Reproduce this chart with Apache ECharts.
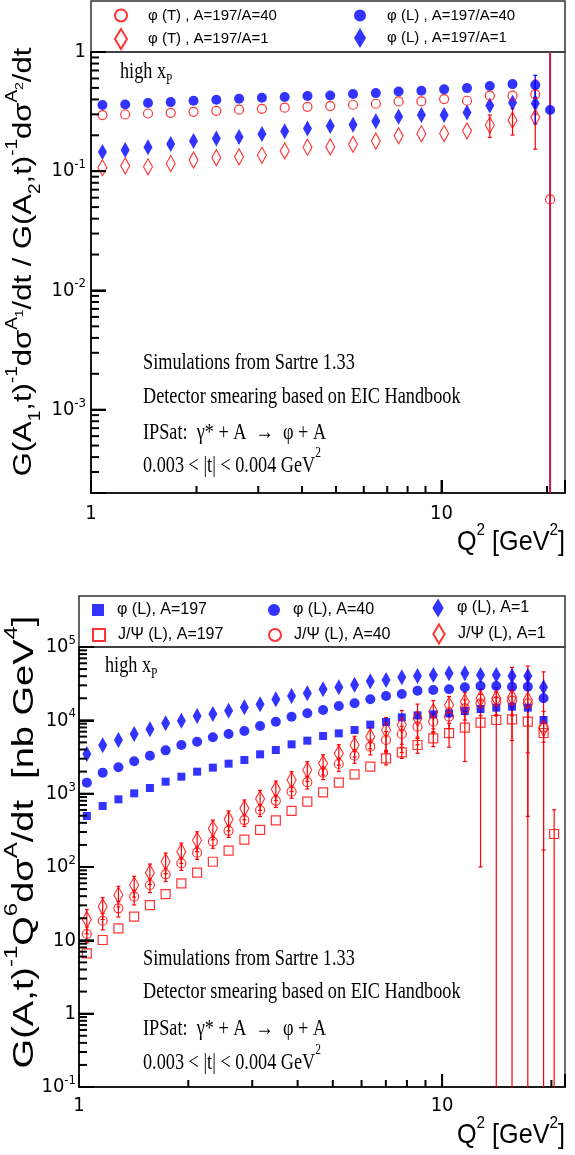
<!DOCTYPE html>
<html>
<head>
<meta charset="utf-8">
<title>Sartre 1.33 - phi / J/psi vs Q2</title>
<script src="https://cdn.jsdelivr.net/npm/echarts@6.0.0/dist/echarts.min.js"></script>
<style>
  html, body { margin: 0; padding: 0; background: #ffffff; }
  #chart { width: 575px; height: 1155px; }
</style>
</head>
<body>
<div id="chart"></div>
<script>
// ---------- upper panel: ratio A=197 over A=40 / A=1 (20 log bins + overflow) ----------
var q2Top = [1.078, 1.252, 1.454, 1.688, 1.961, 2.278, 2.645, 3.073, 3.569, 4.145,
             4.814, 5.591, 6.494, 7.542, 8.760, 10.17, 11.82, 13.73, 15.94, 18.51, 20.4];
var ratioT40 = [0.296, 0.299, 0.305, 0.309, 0.315, 0.321, 0.328, 0.334, 0.341, 0.347,
                0.352, 0.361, 0.368, 0.385, 0.385, 0.403, 0.390, 0.430, 0.430, 0.441, 0.058];
var ratioL40 = [0.359, 0.363, 0.373, 0.380, 0.390, 0.398, 0.405, 0.413, 0.419, 0.427,
                0.432, 0.444, 0.452, 0.467, 0.473, 0.486, 0.498, 0.518, 0.538, 0.528, 0.326];
var ratioT1 = [0.107, 0.111, 0.109, 0.116, 0.124, 0.130, 0.132, 0.136, 0.148, 0.159,
               0.160, 0.168, 0.179, 0.198, 0.206, 0.207, 0.218, 0.244, 0.268, 0.283, null];
var ratioL1 = [0.145, 0.151, 0.159, 0.169, 0.179, 0.188, 0.194, 0.205, 0.216, 0.228,
               0.239, 0.245, 0.262, 0.286, 0.296, 0.296, 0.311, 0.356, 0.375, 0.370, null];
// statistical errors (absolute)
var errT40 = [0.003, 0.003, 0.003, 0.003, 0.004, 0.004, 0.004, 0.004, 0.005, 0.005,
              0.006, 0.007, 0.008, 0.009, 0.010, 0.013, 0.016, 0.030, 0.045, 0.140, 5.0];
var errL40 = [0.002, 0.002, 0.002, 0.002, 0.003, 0.003, 0.003, 0.003, 0.004, 0.004,
              0.005, 0.005, 0.006, 0.007, 0.008, 0.010, 0.015, 0.025, 0.053, 0.110, 0.010];
var errT1 = [0.002, 0.002, 0.002, 0.002, 0.003, 0.003, 0.003, 0.003, 0.004, 0.004,
             0.005, 0.006, 0.007, 0.008, 0.010, 0.015, 0.020, 0.052, 0.067, 0.130, null];
var errL1 = [0.002, 0.002, 0.002, 0.002, 0.002, 0.003, 0.003, 0.003, 0.003, 0.004,
             0.004, 0.005, 0.005, 0.006, 0.007, 0.009, 0.015, 0.020, 0.037, 0.120, null];

// ---------- lower panel: G^-1 Q^6 dsigma/dt [nb GeV^4] (30 log bins + overflow) ----------
var q2Bot = [1.051, 1.162, 1.284, 1.419, 1.568, 1.732, 1.914, 2.115, 2.337, 2.582,
             2.854, 3.153, 3.484, 3.850, 4.254, 4.701, 5.194, 5.740, 6.342, 7.008,
             7.744, 8.557, 9.456, 10.45, 11.55, 12.76, 14.10, 15.58, 17.22, 19.03, 20.35];
var phi197 = [496, 679, 837, 1011, 1194, 1457, 1705, 1995, 2263, 2565,
              2877, 3438, 3940, 4707, 5281, 6111, 6648, 7385, 8730, 9490,
              10990, 11700, 12070, 12460, 13400, 14270, 14890, 15360, 14890, 10100, null];
var phi40 = [1413, 1934, 2286, 2760, 3297, 3896, 4610, 5117, 5866, 6511,
             7156, 8370, 9590, 11220, 12460, 13830, 15690, 17060, 19340, 21470,
             22860, 25380, 25920, 26470, 28180, 29380, 29380, 28770, 28770, 19950, null];
var phi1 = [3475, 4561, 5395, 6511, 7540, 9100, 9897, 11450, 12200, 13540,
            15040, 16520, 19340, 21470, 23350, 26470, 28180, 30640, 34030, 35480,
            38590, 40230, 41500, 43720, 43720, 41500, 41500, 40230, 40230, 28180, null];
var jpsi197 = [6.65, 10.1, 14.6, 21.0, 30.3, 42.8, 59.9, 83.7, 118, 167,
               236, 320, 433, 583, 778, 1042, 1413, 1835, 2335, 3033,
               3661, 4610, 5683, 6700, 7943, 9290, 10100, 10300, 9600, 6720, 282];
var jpsi40 = [12.2, 18.5, 27.3, 39.4, 56.8, 79.4, 112, 157, 222, 311,
              437, 599, 798, 1065, 1436, 1934, 2538, 3297, 4375, 5395,
              6511, 8198, 9590, 11220, 14580, 17060, 17970, 18540, 17060, 8035, null];
var jpsi1 = [19.3, 28.8, 41.5, 56.8, 83.7, 118, 162, 232, 335, 447,
             631, 850, 1146, 1536, 2102, 2592, 3548, 4610, 5986, 7385,
             8635, 10650, 13120, 16180, 17970, 19950, 19950, 20590, 18940, 7800, null];
var jpsi197Err = [0.5, 0.7, 1.0, 1.4, 2, 2.8, 3.8, 5.3, 7.5, 11,
                  16, 22, 30, 42, 58, 85, 120, 170, 260, 570,
                  630, 1060, 1300, 2400, 5200, 9190, 10500, 5000, 6000, 6550, 320];
var jpsi40Err = [3, 4.6, 6.5, 9, 12, 16, 22, 30, 42, 58,
                 80, 110, 150, 200, 280, 380, 520, 700, 1000, 1650,
                 1800, 2300, 2800, 3500, 4500, 5500, 6500, 7000, 38000, 3000, null];
var jpsi1Err = [7, 9.5, 13, 18, 26, 37, 50, 70, 100, 135,
                190, 260, 340, 460, 630, 800, 1100, 1450, 1900, 3500,
                5000, 6000, 5500, 5000, 6000, 7000, 8000, 32000, 18450, 38000, null];

// axis ticks (ROOT style: decades long, 2..9 short, all on the inside)
var topXMajor = [1, 10];
var topYMajor = [1e-3, 1e-2, 1e-1, 1];
var botXMajor = [1, 10];
var botYMajor = [0.1, 1, 10, 100, 1000, 1e4, 1e5];
var minorSteps = [2, 3, 4, 5, 6, 7, 8, 9];

var SANS = "'Liberation Sans', Arial, Helvetica, sans-serif";
var NARROW = "'Liberation Sans Narrow', 'Arial Narrow', 'DejaVu Sans Condensed', sans-serif";
var SERIF = "'Liberation Serif', 'Times New Roman', Times, serif";
var RED = '#ff0000';
var BLUE = '#0000ff';
var DIAMOND = 'path://M6,0L12,10L6,20L0,10Z';
var SQUARE = 'path://M0,0L10,0L10,10L0,10Z';

var TOP_YMIN = 2e-4, TOP_YMAX = 1, TOP_XMAX = 22.5;
var BOT_YMIN = 0.1, BOT_YMAX = 1e5, BOT_XMAX = 21.8;

var myChart = echarts.init(document.getElementById('chart'));

function pairs(xs, ys) {
    var out = [];
    for (var i = 0; i < xs.length; i++) {
        if (ys[i] != null) out.push([xs[i], ys[i]]);
    }
    return out;
}

// vertical error bar with small caps; hidden when shorter than the marker
function errRenderer(yFloor, width) {
    return function (params, api) {
        var x = api.value(0), y = api.value(1), s = api.value(2);
        if (!(s > 0)) return;
        var lo = y - s > 0 ? y - s : yFloor;
        var p1 = api.coord([x, y + s]);
        var p2 = api.coord([x, lo]);
        if (Math.abs(p2[1] - p1[1]) < 11) return;
        var st = { stroke: api.visual('color'), lineWidth: width };
        return {
            type: 'group',
            children: [
                { type: 'line', shape: { x1: p1[0], y1: p1[1], x2: p2[0], y2: p2[1] }, style: st },
                { type: 'line', shape: { x1: p1[0] - 2, y1: p1[1], x2: p1[0] + 2, y2: p1[1] }, style: st },
                { type: 'line', shape: { x1: p2[0] - 2, y1: p2[1], x2: p2[0] + 2, y2: p2[1] }, style: st }
            ]
        };
    };
}

function errBars(name, grid, xs, ys, es, color, yFloor, width) {
    var data = [];
    for (var i = 0; i < xs.length; i++) {
        if (ys[i] != null && es[i] != null) data.push([xs[i], ys[i], es[i]]);
    }
    return {
        name: name, type: 'custom', xAxisIndex: grid, yAxisIndex: grid,
        renderItem: errRenderer(yFloor, width || 1.2),
        encode: { x: 0, y: 1 },
        itemStyle: { color: color },
        clip: true, silent: true, z: 2,
        data: data
    };
}

function scatter(name, grid, xs, ys, symbol, size, filled, color) {
    return {
        name: name, type: 'scatter', xAxisIndex: grid, yAxisIndex: grid,
        symbol: symbol, symbolSize: size,
        itemStyle: filled ? { color: color } :
            { color: 'rgba(255,255,255,0)', borderColor: color, borderWidth: 1.2 },
        silent: true, z: 3,
        data: pairs(xs, ys)
    };
}

// minor tick values (2..9 x 10^d) strictly inside [min, max]
function minorValues(min, max) {
    var out = [];
    for (var d = Math.floor(Math.log10(min)); d < Math.ceil(Math.log10(max)); d++) {
        for (var i = 0; i < minorSteps.length; i++) {
            var v = minorSteps[i] * Math.pow(10, d);
            if (v > min && v < max) out.push(v);
        }
    }
    return out;
}

// inner tick marks drawn through the axis scale of one grid
function tickSeries(grid, dim, vals, fixed, len) {
    var data = [];
    for (var i = 0; i < vals.length; i++) {
        data.push(dim === 'x' ? [vals[i], fixed] : [fixed, vals[i]]);
    }
    return {
        name: 'ticks-' + grid + dim + len,
        type: 'custom', xAxisIndex: grid, yAxisIndex: grid,
        encode: { x: 0, y: 1 }, silent: true, clip: false, z: 6,
        data: data,
        renderItem: function (params, api) {
            var p = api.coord([api.value(0), api.value(1)]);
            var shape = dim === 'x' ?
                { x1: p[0], y1: p[1], x2: p[0], y2: p[1] - len } :
                { x1: p[0], y1: p[1], x2: p[0] + len, y2: p[1] };
            return { type: 'line', shape: shape, style: { stroke: '#000', lineWidth: 2 } };
        }
    };
}

function decadeLabel(v) {
    var lg = Math.log(v) / Math.LN10;
    var e = Math.round(lg);
    if (Math.abs(lg - e) > 1e-6) return '';
    if (e === 0) return '{b|1}';
    if (e === 1) return '{b|10}';
    return '{b|10}{e|' + e + '}';
}

function xDecadeLabel(v) {
    var lg = Math.log(v) / Math.LN10;
    if (Math.abs(lg) < 1e-6) return '1';
    if (Math.abs(lg - 1) < 1e-6) return '10';
    return '';
}

function logAxis(grid, min, max, isY, margin) {
    return {
        type: 'log', logBase: 10, gridIndex: grid, min: min, max: max,
        axisLine: { show: true, lineStyle: { color: '#000', width: 1.6 } },
        axisTick: { show: true, inside: true, length: isY ? 15 : 13, lineStyle: { color: '#000', width: 2 } },
        minorTick: { show: false },
        splitLine: { show: false },
        minorSplitLine: { show: false },
        axisLabel: isY ? {
            formatter: decadeLabel, margin: margin,
            rich: {
                b: { fontSize: 20, fontFamily: NARROW, color: '#000', padding: [3, 0, 3, 0] },
                e: { fontSize: 13, fontFamily: NARROW, color: '#000', verticalAlign: 'top' }
            }
        } : {
            formatter: xDecadeLabel, margin: margin,
            fontSize: 20, fontFamily: NARROW, color: '#000'
        }
    };
}

// icon centre cx, text start tx (legend puts text 5px after the icon)
function legendEntry(name, cx, tx, centerY, iconW, h, fontSize, icon) {
    var item = { name: name };
    if (icon) item.icon = icon;
    var left = cx - iconW / 2;
    return {
        data: [item], left: left, top: centerY - h / 2,
        itemWidth: iconW, itemHeight: h, padding: 0, selectedMode: false,
        textStyle: {
            fontSize: fontSize, fontFamily: SANS, color: '#000', lineHeight: h,
            padding: [0, 0, 0, Math.max(0, tx - (left + iconW + 5))]
        }
    };
}

// text helpers (the reference fonts are horizontally condensed)
var serifRich = {
    n: { fontSize: 24, fontFamily: SERIF, fill: '#000', padding: [8, 0, 4, 0] },
    u: { fontSize: 15, fontFamily: SERIF, fill: '#000', verticalAlign: 'top' },
    d: { fontSize: 15, fontFamily: SERIF, fill: '#000', verticalAlign: 'bottom' }
};
function serifText(x, baseline, text) {
    return {
        type: 'text', x: x, y: baseline - 28, scaleX: 0.76, silent: true,
        style: { text: text, rich: serifRich, fill: '#000', align: 'left', verticalAlign: 'top' }
    };
}

var qRich = {
    q: { fontSize: 28, fontFamily: SANS, fill: '#000', padding: [6, 0, 0, 0] },
    s: { fontSize: 17, fontFamily: SANS, fill: '#000', verticalAlign: 'top' }
};
function xTitle(right, baseline) {
    return {
        type: 'text', x: right, y: baseline - 30, scaleX: 0.9, silent: true,
        style: { text: '{q|Q}{s|2}{q| [GeV}{s|2}{q|]}', rich: qRich, fill: '#000', align: 'right', verticalAlign: 'top' }
    };
}

function titleRich(F) {
    return {
        g: { fontSize: F, fontFamily: SANS, fill: '#000', padding: [Math.round(F * 0.25), 0, Math.round(F * 0.25), 0] },
        sp: { fontSize: Math.round(F * 0.62), fontFamily: SANS, fill: '#000', verticalAlign: 'top' },
        sb: { fontSize: Math.round(F * 0.62), fontFamily: SANS, fill: '#000', verticalAlign: 'bottom' },
        ss: { fontSize: Math.round(F * 0.45), fontFamily: SANS, fill: '#000', verticalAlign: 'top', padding: [Math.round(F * 0.4), 0, 0, 0] }
    };
}
function yTitle(cx, cy, text, F, squeeze) {
    return {
        type: 'text', x: cx, y: cy, rotation: Math.PI / 2, scaleY: squeeze, silent: true,
        style: { text: text, rich: titleRich(F), fill: '#000', align: 'center', verticalAlign: 'middle' }
    };
}

var topTitle = '{g|G(A}{sb|1}{g|,t)}{sp|-1}{g|dσ}{sp|A}{ss|1}{g|/dt / G(A}{sb|2}{g|,t)}{sp|-1}{g|dσ}{sp|A}{ss|2}{g|/dt}';
var botTitle = '{g|G(A,t)}{sp|-1}{g|Q}{sp|6}{g|dσ}{sp|A}{g|/dt  [nb GeV}{sp|4}{g|]}';

var nT40 = 'φ (T) , A=197/A=40', nL40 = 'φ (L) , A=197/A=40';
var nT1 = 'φ (T) , A=197/A=1', nL1 = 'φ (L) , A=197/A=1';
var nP197 = 'φ (L), A=197', nP40 = 'φ (L), A=40', nP1 = 'φ (L), A=1';
var nJ197 = 'J/Ψ (L), A=197', nJ40 = 'J/Ψ (L), A=40', nJ1 = 'J/Ψ (L), A=1';

var last = q2Top.length - 1;

var option = {
    animation: false,
    backgroundColor: '#ffffff',
    grid: [
        { left: 91, top: 52, width: 474, height: 441, show: true, borderColor: '#444', borderWidth: 1.5 },
        { left: 79, top: 647, width: 486, height: 440, show: true, borderColor: '#444', borderWidth: 1.5 }
    ],
    xAxis: [
        logAxis(0, 1, TOP_XMAX, false, 11),
        logAxis(1, 1, BOT_XMAX, false, 9)
    ],
    yAxis: [
        logAxis(0, TOP_YMIN, TOP_YMAX, true, 5),
        logAxis(1, BOT_YMIN, BOT_YMAX, true, 3)
    ],
    legend: [
        legendEntry(nT40, 120, 147, 14, 12, 12, 15),
        legendEntry(nT1, 120, 147, 38, 12, 20, 15, DIAMOND),
        legendEntry(nL40, 360, 387, 14, 12, 12, 15),
        legendEntry(nL1, 360, 387, 38, 12, 20, 15, DIAMOND),
        legendEntry(nP197, 98, 117, 608, 12, 12, 16, SQUARE),
        legendEntry(nJ197, 98, 117, 633, 12, 12, 16, SQUARE),
        legendEntry(nP40, 274, 293, 608, 12, 12, 16),
        legendEntry(nJ40, 274, 293, 633, 12, 12, 16),
        legendEntry(nP1, 438, 457, 608, 11.4, 19, 16, DIAMOND),
        legendEntry(nJ1, 438, 457, 633, 11.4, 19, 16, DIAMOND)
    ],
    graphic: [
        { type: 'rect', silent: true, shape: { x: 91, y: 1, width: 474, height: 51 }, style: { fill: 'none', stroke: '#333', lineWidth: 1.5 } },
        { type: 'rect', silent: true, shape: { x: 79, y: 596, width: 486, height: 51 }, style: { fill: 'none', stroke: '#333', lineWidth: 1.5 } },
        serifText(120, 80, '{n|high x}{d|P}'),
        serifText(143, 371, '{n|Simulations from Sartre 1.33}'),
        serifText(143, 405, '{n|Detector smearing based on EIC Handbook}'),
        serifText(143, 441, '{n|IPSat:  γ* + A  →  φ + A}'),
        serifText(143, 474, '{n|0.003 < |t| < 0.004 GeV}{u|2}'),
        serifText(105, 674, '{n|high x}{d|P}'),
        serifText(143, 967, '{n|Simulations from Sartre 1.33}'),
        serifText(143, 1000, '{n|Detector smearing based on EIC Handbook}'),
        serifText(143, 1037, '{n|IPSat:  γ* + A  →  φ + A}'),
        serifText(143, 1071, '{n|0.003 < |t| < 0.004 GeV}{u|2}'),
        xTitle(565, 552),
        xTitle(565, 1145),
        yTitle(24, 262, topTitle, 31, 0.82),
        yTitle(25, 842, botTitle, 38, 0.78)
    ],
    series: [
        // axis ticks
        tickSeries(0, 'x', topXMajor, TOP_YMIN, 13),
        tickSeries(0, 'x', minorValues(1, TOP_XMAX), TOP_YMIN, 7),
        tickSeries(0, 'y', topYMajor, 1, 15),
        tickSeries(0, 'y', minorValues(TOP_YMIN, TOP_YMAX), 1, 8),
        tickSeries(1, 'x', botXMajor, BOT_YMIN, 13),
        tickSeries(1, 'x', minorValues(1, BOT_XMAX), BOT_YMIN, 7),
        tickSeries(1, 'y', botYMajor, 1, 15),
        tickSeries(1, 'y', minorValues(BOT_YMIN, BOT_YMAX), 1, 8),
        // upper panel
        errBars('errT40', 0, q2Top.slice(0, last), ratioT40.slice(0, last), errT40.slice(0, last), RED, TOP_YMIN / 2),
        errBars('errT40 overflow', 0, q2Top.slice(last), ratioT40.slice(last), errT40.slice(last), '#c8164a', TOP_YMIN / 2, 2),
        errBars('errL40', 0, q2Top, ratioL40, errL40, BLUE, TOP_YMIN / 2),
        errBars('errT1', 0, q2Top, ratioT1, errT1, RED, TOP_YMIN / 2),
        errBars('errL1', 0, q2Top, ratioL1, errL1, BLUE, TOP_YMIN / 2),
        scatter(nL40, 0, q2Top, ratioL40, 'circle', 10, true, BLUE),
        scatter(nL1, 0, q2Top, ratioL1, 'diamond', [9, 16], true, BLUE),
        scatter(nT40, 0, q2Top, ratioT40, 'circle', 9, false, RED),
        scatter(nT1, 0, q2Top, ratioT1, 'diamond', [9, 16], false, RED),
        // lower panel
        errBars('errJ197', 1, q2Bot, jpsi197, jpsi197Err, RED, BOT_YMIN / 2),
        errBars('errJ40', 1, q2Bot, jpsi40, jpsi40Err, RED, BOT_YMIN / 2),
        errBars('errJ1', 1, q2Bot, jpsi1, jpsi1Err, RED, BOT_YMIN / 2),
        scatter(nP197, 1, q2Bot, phi197, 'rect', 8, true, BLUE),
        scatter(nP40, 1, q2Bot, phi40, 'circle', 10, true, BLUE),
        scatter(nP1, 1, q2Bot, phi1, 'diamond', [9, 16], true, BLUE),
        scatter(nJ197, 1, q2Bot, jpsi197, 'rect', 9, false, RED),
        scatter(nJ40, 1, q2Bot, jpsi40, 'circle', 9, false, RED),
        scatter(nJ1, 1, q2Bot, jpsi1, 'diamond', [9, 16], false, RED)
    ]
};

myChart.setOption(option);
</script>
</body>
</html>
